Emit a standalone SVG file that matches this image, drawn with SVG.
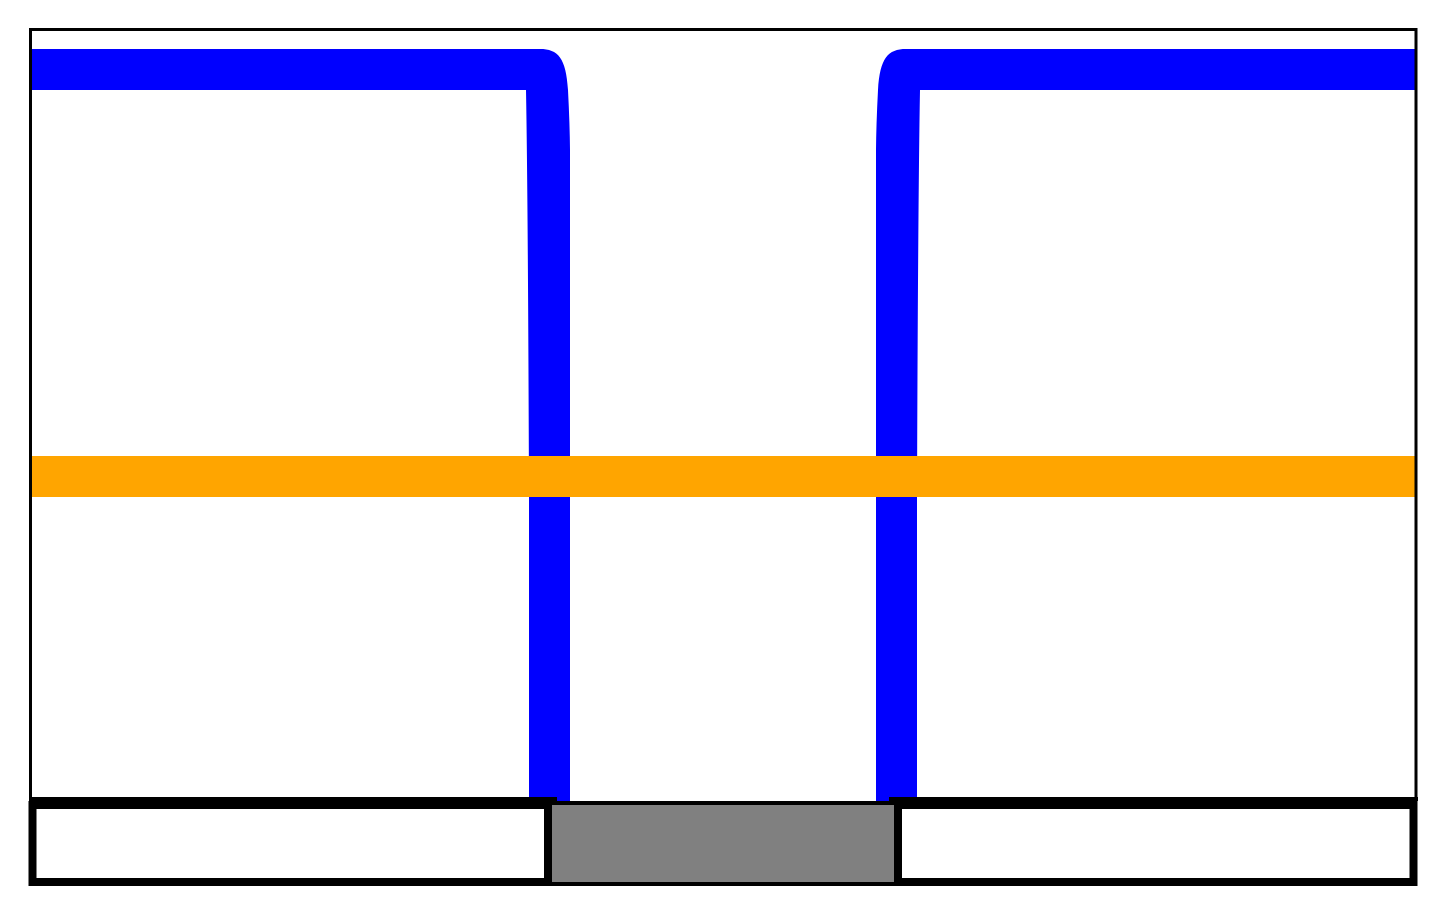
<svg xmlns="http://www.w3.org/2000/svg" width="1446" height="914" viewBox="0 0 1446 914">
<style>
.blue{fill:#0000ff}
.orange{fill:#ffa500}
.frame{fill:none;stroke:#000;stroke-width:3}
.box{fill:#fff;stroke:#000;stroke-width:8}
.gray{fill:#808080;stroke:#000;stroke-width:4}
.band{fill:#000}
</style>
<rect width="1446" height="914" fill="#fff"/>
<g id="connectors">
<path id="blue-left" class="blue" d="M30,49 H540 C558,49 566,58 568,90 Q569.8,125 570,150 V801 H529 V500 Q528,200 526,90 H30 Z"/>
<path id="blue-right" class="blue" d="M1416,49 H906 C888,49 880,58 878,90 Q876.2,125 876,150 V801 H917 V500 Q918,200 920,90 H1416 Z"/>
<rect id="orange" class="orange" x="31" y="456" width="1385" height="41"/>
</g>
<g id="frame">
<path class="frame" d="M30.5,799 V29.5 H1416 V799"/>
</g>
<g id="middle-block">
<rect class="gray" x="548" y="803" width="350" height="81"/>
</g>
<g id="left-block">
<rect class="box" x="32.5" y="805" width="515.5" height="77"/>
<rect class="band" x="29" y="797" width="528" height="4"/>
</g>
<g id="right-block">
<rect class="box" x="898" y="805" width="515.5" height="77"/>
<rect class="band" x="889" y="797" width="529" height="4"/>
</g>
</svg>
